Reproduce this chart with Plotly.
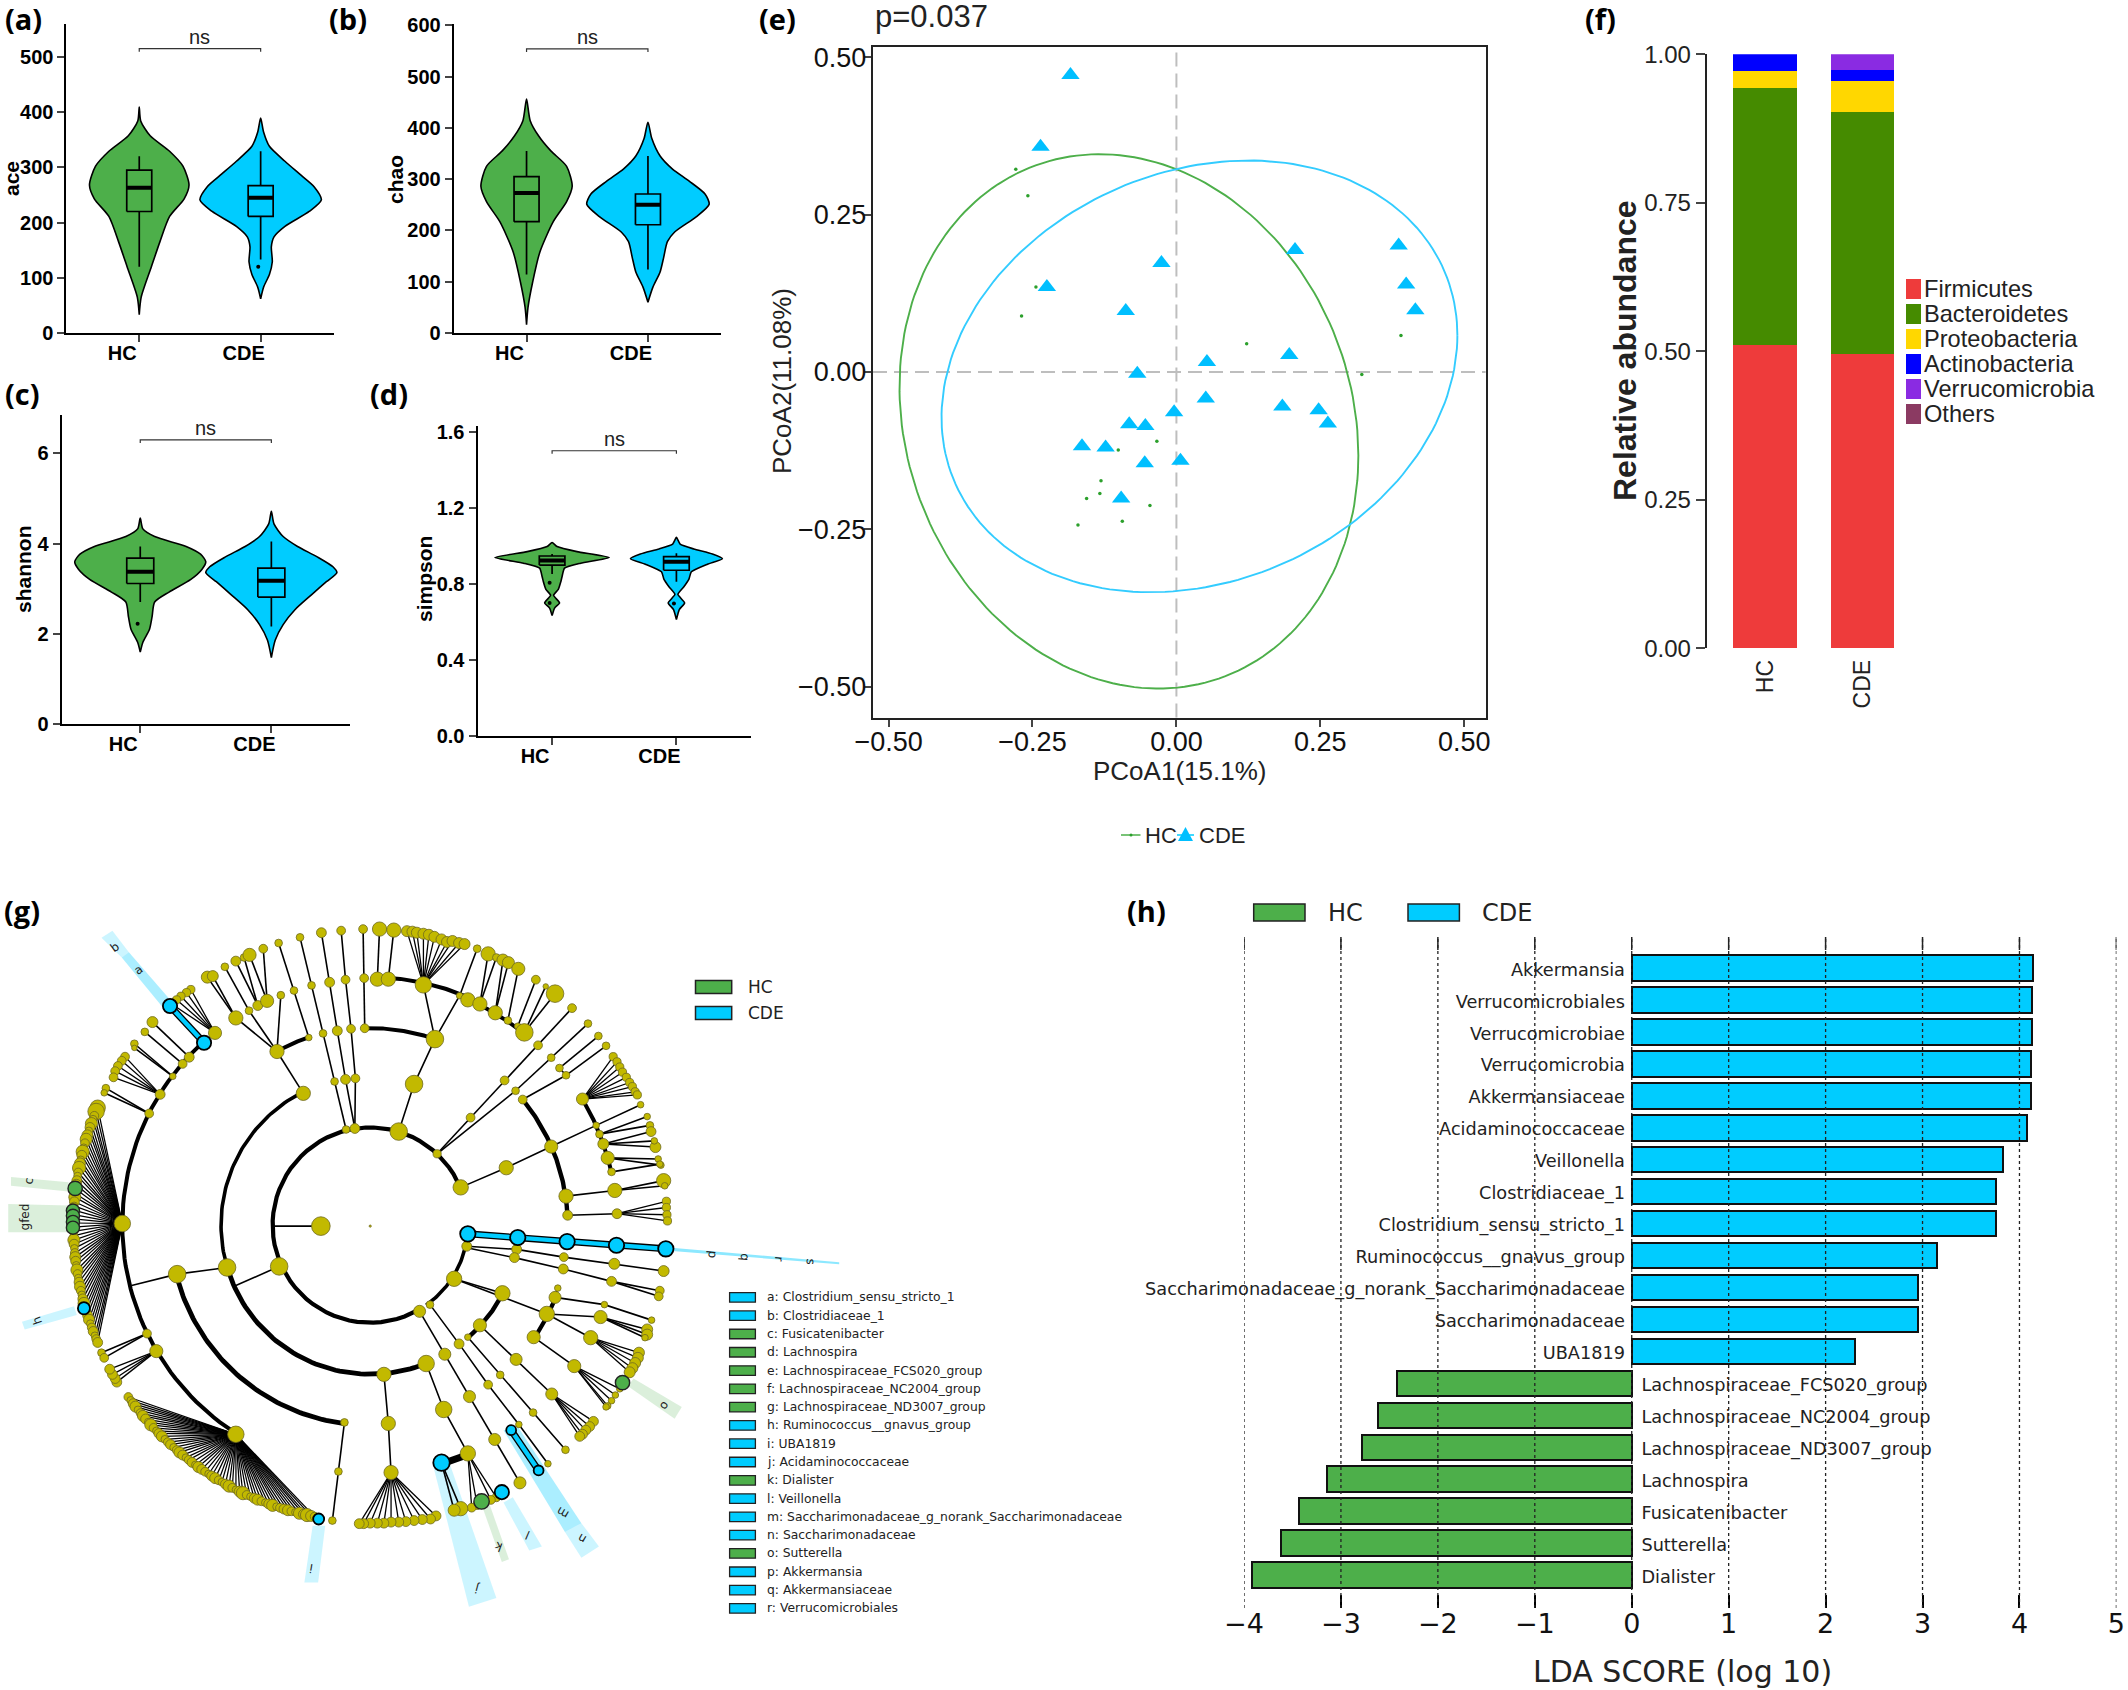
import numpy as np
import plotly.graph_objects as go

W, H = 2128, 1690
GREEN = "#4DAF4A"
BLUE = "#00CCFF"
SANS = "Liberation Sans"
DEJA = "DejaVu Sans"

# ---------- violin panels: levels, half widths (in category units), box stats ----------
ace_hc_y = [409, 384, 357, 329, 302, 268, 243, 211, 165, 120, 65, 33]
ace_hc_w = [0, .012, .09, .25, .36, .41, .37, .25, .17, .10, .016, 0]
ace_cde_y = [389, 364, 338, 311, 288, 265, 241, 220, 193, 174, 156, 129, 106, 83, 62]
ace_cde_w = [0, .024, .072, .2, .32, .44, .5, .4, .2, .11, .088, .096, .072, .024, 0]
ace_box = [[120, 220, 263, 295, 320], [133, 211, 245, 267, 329]]
ace_out = [[], [120]]

chao_hc_y = [456, 414, 384, 355, 325, 286, 256, 217, 158, 99, 50, 16]
chao_hc_w = [0, .03, .1, .2, .33, .376, .33, .22, .11, .05, .012, 0]
chao_cde_y = [411, 379, 345, 320, 296, 271, 251, 227, 197, 178, 148, 119, 89, 60]
chao_cde_w = [0, .032, .1, .2, .34, .47, .504, .4, .22, .16, .13, .1, .04, 0]
chao_box = [[114, 217, 273, 305, 355], [124, 211, 250, 271, 345]]
chao_out = [[], []]

sha_hc_y = [4.57, 4.33, 4.16, 3.94, 3.77, 3.60, 3.43, 3.21, 2.93, 2.71, 2.38, 2.10, 1.82, 1.6]
sha_hc_w = [0, .02, .11, .35, .46, .5, .47, .386, .22, .11, .09, .07, .02, 0]
sha_cde_y = [4.72, 4.44, 4.16, 3.94, 3.71, 3.49, 3.36, 3.16, 2.88, 2.54, 2.21, 1.87, 1.48]
sha_cde_w = [0, .02, .09, .2, .35, .47, .5, .42, .31, .18, .09, .03, 0]
sha_box = [[2.71, 3.12, 3.38, 3.68, 3.94], [2.17, 2.82, 3.18, 3.46, 4.05]]
sha_out = [[2.23], []]

sim_hc_y = [1.016, .995, .968, .937, .907, .881, .836, .809, .769, .738, .698, .671, .631]
sim_hc_w = [0, .04, .2, .46, .23, .1, .08, .07, .05, .012, .06, .02, 0]
sim_cde_y = [1.043, 1.008, .982, .955, .931, .902, .862, .822, .783, .743, .698, .663, .61]
sim_cde_w = [0, .03, .14, .29, .37, .25, .12, .1, .06, .012, .066, .023, 0]
sim_box = [[.85, .897, .921, .945, .955], [.81, .870, .915, .942, .96]]
sim_out = [[.804, .698], [.695]]

groups = ["HC", "CDE"]

# ---------- PCoA ----------
cde_x = [-.184, -.236, -.225, -.088, -.026, .206, .386, .399, .415, .053, .196, -.068, .051, -.004, .184, .247, .263, -.082, -.054, -.164, -.123, -.055, .007, -.096]
cde_y = [.472, .358, .135, .097, .173, .194, .201, .139, .098, .016, .027, -.003, -.042, -.064, -.055, -.061, -.082, -.083, -.086, -.118, -.120, -.145, -.141, -.201]
hc_x = [-.279, -.258, -.244, -.269, .122, .390, .322, -.004, -.034, -.101, -.131, -.156, -.133, -.046, -.094, -.171]
hc_y = [.322, .280, .135, .089, .045, .058, -.004, -.063, -.110, -.124, -.173, -.201, -.193, -.212, -.237, -.243]
# confidence ellipses: centre x, centre y, half width, half height, correlation
ellipse_hc = (-.0825, -.0785, .3985, .4245, -.128)
ellipse_cde = (.04, -.007, .448, .343, .19)

# ---------- stacked bars ----------
phyla = ["Firmicutes", "Bacteroidetes", "Proteobacteria", "Actinobacteria", "Verrucomicrobia", "Others"]
phyla_colors = ["#EE3B3B", "#458B00", "#FFD700", "#0000FF", "#8A2BE2", "#8B3A62"]
phyla_hc = [.511, .432, .028, .029, 0, 0]
phyla_cde = [.495, .407, .053, .019, .026, 0]

# ---------- LDA ----------
lda_names = ["Akkermansia", "Verrucomicrobiales", "Verrucomicrobiae", "Verrucomicrobia", "Akkermansiaceae",
             "Acidaminococcaceae", "Veillonella", "Clostridiaceae_1", "Clostridium_sensu_stricto_1",
             "Ruminococcus__gnavus_group", "Saccharimonadaceae_g_norank_Saccharimonadaceae", "Saccharimonadaceae",
             "UBA1819", "Lachnospiraceae_FCS020_group", "Lachnospiraceae_NC2004_group", "Lachnospiraceae_ND3007_group",
             "Lachnospira", "Fusicatenibacter", "Sutterella", "Dialister"]
lda_vals = [4.14, 4.13, 4.13, 4.12, 4.12, 4.08, 3.83, 3.76, 3.76, 3.15, 2.95, 2.95, 2.30,
            -2.42, -2.62, -2.78, -3.14, -3.43, -3.62, -3.92]

# ---------- cladogram (layout units of the tree; centre = 675, 668) ----------
clade_legend = ["a: Clostridium_sensu_stricto_1", "b: Clostridiaceae_1", "c: Fusicatenibacter", "d: Lachnospira",
                "e: Lachnospiraceae_FCS020_group", "f: Lachnospiraceae_NC2004_group", "g: Lachnospiraceae_ND3007_group",
                "h: Ruminococcus__gnavus_group", "i: UBA1819", "j: Acidaminococcaceae", "k: Dialister", "l: Veillonella",
                "m: Saccharimonadaceae_g_norank_Saccharimonadaceae", "n: Saccharimonadaceae", "o: Sutterella",
                "p: Akkermansia", "q: Akkermansiaceae", "r: Verrucomicrobiales"]
clade_legend_grp = ["CDE", "CDE", "HC", "HC", "HC", "HC", "HC", "CDE", "CDE", "CDE", "HC", "CDE", "CDE", "CDE", "HC", "CDE", "CDE", "CDE"]

# arcs: radius, start angle, end angle, width
arcs = [(178, 22, 300, 4.2), (178, -5, -55, 3.6), (272, 117, 197, 3.6), (272, 197, 292, 4.8), (365, 195, 263, 4.8),
        (452, 132, 238, 4.0), (452, 88, 67, 4.0), (448, 67, 52, 4.0), (359, 92, 71, 4.0), (360, 118, 108, 4.0),
        (360, 39, 2.5, 4.4), (450, 30.6, 12.3, 4.0), (272, -28, -49, 4.4), (363, -22, -35, 4.2), (457, -73.5, -67, 4.2)]

edges = [
    [(497, 670), (585, 670)],
    [(797, 530), (858, 460), (920, 388), (981, 320), (1043, 248)],
    [(840, 595), (923, 557), (1005, 516), (1087, 475)],
    [(851, 709), (942, 715), (1028, 730), (1120, 743), (1210, 757)],
    [(851, 712), (938, 731), (1027, 753), (1115, 777), (1203, 795)], [(1115, 777), (1201, 806)],
    [(828, 772), (997, 840)], [(997, 840), (1012, 808), (1017, 790)], [(1012, 808), (1102, 822), (1188, 852)],
    [(997, 840), (1095, 846)], [(1095, 846), (1180, 870)], [(1095, 846), (1176, 886)], [(1095, 846), (1180, 880)],
    [(973, 885), (1047, 941)], [(997, 840), (1077, 886)],
    [(828, 772), (916, 800)],
    [(875, 862), (941, 928), (1006, 995)],
    [(853, 885), (912, 958), (972, 1031), (1031, 1103)],
    [(784, 822), (837, 898), (890, 977), (946, 1054), (999, 1130)],
    [(765, 835), (811, 918), (856, 1000), (902, 1083), (948, 1167)],
    [(777, 936), (809, 1025), (853, 1110)],
    [(805, 1128), (840, 1217)], [(805, 1128), (828, 1220)],
    [(700, 957), (708, 1052), (713, 1147)],
    [(628, 1050), (617, 1145), (606, 1240)],
    [(509, 748), (430, 785)], [(414, 750), (323, 763), (240, 785)],
    [(553, 413), (505, 332)], [(430, 267), (378, 188)], [(430, 267), (388, 186)],
    [(454, 253), (410, 168)], [(470, 243), (430, 157)], [(470, 243), (445, 150)], [(487, 234), (455, 145)], [(487, 234), (480, 133)],
    [(563, 305), (536, 214), (508, 122)], [(589, 297), (568, 204), (547, 111)],
    [(631, 483), (610, 390), (589, 297)], [(647, 481), (630, 386), (615, 292), (601, 198), (586, 102)],
    [(647, 481), (648, 384), (640, 288), (630, 193), (622, 98)], [(665, 287), (664, 190), (662, 95)],
    [(727, 487), (755, 395), (793, 308), (838, 224)], [(793, 308), (772, 203)],
    [(688, 192), (692, 95)], [(708, 192), (718, 97)], [(838, 224), (870, 133)], [(875, 240), (890, 143)], [(875, 240), (905, 150)],
    [(903, 257), (917, 155)], [(903, 257), (927, 160)], [(926, 272), (945, 172)], [(944, 283), (977, 193)], [(956, 295), (995, 206)], [(956, 295), (1012, 220)],
    [(797, 530), (940, 408)], [(940, 408), (1005, 344), (1072, 278)], [(953, 425), (1032, 378)], [(1020, 364), (1091, 302)], [(1032, 378), (1105, 321)], [(1020, 364), (1032, 378)],
    [(1087, 475), (1168, 435)], [(1093, 492), (1180, 458)], [(1093, 492), (1185, 475)], [(1100, 511), (1187, 487)], [(1100, 511), (1195, 517)], [(1100, 511), (1193, 505)],
    [(1108, 538), (1200, 540)], [(1108, 538), (1205, 552)], [(1115, 565), (1203, 550)],
    [(1032, 612), (1121, 601), (1210, 582)], [(1121, 601), (1212, 592)], [(1035, 649), (1125, 646)],
    [(285, 912), (268, 878)], [(272, 452), (193, 403)], [(272, 452), (190, 412)], [(315, 380), (245, 317)], [(315, 380), (245, 325)], [(333, 356), (264, 294)], [(345, 343), (278, 275)],
    [(268, 878), (185, 915)], [(268, 878), (190, 925)], [(430, 267), (505, 332)], [(454, 253), (505, 332)], [(512, 223), (505, 332)],
]

# fans: parent node and the leaves it carries
fans = [
    ((1062, 424), [(1118, 342), (1125, 352), (1130, 362), (1135, 372), (1142, 382), (1148, 392), (1153, 400), (1158, 410), (1162, 416)], 15),
    ((1125, 646), [(1215, 622), (1215, 634), (1216, 648), (1217, 660)], 15),
    ((1077, 886), [(1165, 915), (1163, 925), (1158, 935), (1153, 945), (1148, 953)], 20),
    ((1047, 941), [(1130, 985), (1122, 997), (1115, 1008), (1108, 1018), (1105, 1020)], 12),
    ((1006, 995), [(1082, 1048), (1075, 1058), (1068, 1065), (1062, 1073), (1057, 1077)], 18),
    ((853, 1110), [(905, 1195), (895, 1200), (870, 1210), (860, 1215)], 16),
    ((713, 1147), [(795, 1231), (785, 1237), (770, 1238), (755, 1240), (740, 1242), (727, 1243), (713, 1243), (700, 1245), (688, 1245), (675, 1245), (663, 1246), (655, 1246)], 18),
    ((285, 912), [(213, 972), (210, 965), (205, 957), (200, 947)], 18),
    ((292, 415), [(228, 342), (222, 350), (215, 360), (210, 370), (207, 382)], 16),
    ((392, 296), [(348, 212), (340, 218), (330, 225), (322, 232), (313, 240)], 15),
    ((772, 203), [(742, 99), (752, 100), (760, 102), (772, 104), (782, 106), (792, 110), (805, 115), (815, 120), (825, 118), (837, 122), (847, 124)], 20),
]
# big fans: parent node, leaf angle, leaf diameter
left_fan_parent = (223, 665)
left_fan_ang = [156.7, 157.5, 158.4, 159.1, 160.0, 160.8, 161.5, 162.4, 163.2, 164.0, 164.9, 165.7, 166.4, 167.3, 168.0, 168.9, 169.8, 170.5, 171.4, 172.2, 173.0, 173.9, 174.6, 175.5, 176.3, 177.1, 178.0, 178.8, 179.6, 180.4, 181.2, 182.1, 182.9, 183.7, 184.5, 185.4, 186.2, 187.0, 187.8, 188.7, 189.5, 190.3, 191.1, 192.0, 192.8, 193.6, 194.4, 195.3, 196.1, 196.9, 197.7, 198.6, 199.4, 200.2, 201.0, 201.9, 202.6, 203.3]
left_fan_d = [28, 30, 16, 14, 22, 18, 14, 20, 22, 16, 14, 24, 18, 14, 20, 24, 16, 14, 18, 20, 14, 16, 22, 18, 14, 16, 18, 14, 20, 18, 16, 14, 22, 18, 14, 16, 20, 18, 14, 22, 16, 14, 18, 20, 16, 14, 18, 22, 14, 16, 18, 20, 14, 16, 18, 14, 16, 18]
low_fan_parent = (430, 1073)
low_fan_ang = [215.4, 216.2, 217.0, 217.7, 218.5, 219.3, 220.0, 220.8, 221.6, 222.3, 223.1, 223.9, 224.6, 225.4, 226.2, 227.0, 227.7, 228.5, 229.3, 230.0, 230.8, 231.6, 232.3, 233.1, 233.9, 234.6, 235.4, 236.2, 237.0, 237.7, 238.5, 239.3, 240.0, 240.8, 241.6, 242.3, 243.1, 243.9, 244.6, 245.4, 246.2, 247.0, 247.7, 248.5, 249.3, 250.0, 250.8, 251.6, 252.3, 253.1, 253.9, 254.6, 255.4, 256.2, 257.0, 257.7, 258.5, 259.2]
low_fan_d = [16, 14, 18, 20, 14, 16, 20, 18, 14, 22, 16, 14, 18, 20, 14, 16, 18, 14, 16, 20, 18, 14, 16, 18, 14, 20, 18, 16, 14, 18, 20, 16, 14, 18, 22, 16, 14, 20, 24, 16, 14, 18, 20, 16, 14, 18, 22, 14, 16, 18, 20, 16, 14, 22, 18, 24, 20, 16]

olive_nodes = [(675, 670, 4), (585, 670, 34), (631, 483, 14), (647, 481, 18), (727, 487, 32), (797, 530, 15), (840, 595, 28), (509, 748, 32), (414, 750, 32), (323, 763, 32),
    (553, 413, 26), (505, 332, 26), (563, 305, 12), (430, 267, 26), (454, 253, 14), (470, 243, 18), (487, 234, 24), (512, 223, 14), (536, 214, 14), (568, 204, 14), (601, 198, 18), (630, 193, 16), (664, 190, 16),
    (589, 297, 14), (615, 292, 18), (640, 288, 16), (665, 287, 16), (610, 390, 14), (630, 386, 18), (648, 384, 16), (793, 308, 32), (755, 395, 32),
    (378, 188, 22), (388, 186, 20), (410, 168, 14), (430, 157, 18), (445, 150, 14), (455, 145, 24), (480, 133, 16), (508, 122, 14), (547, 111, 14), (586, 102, 18), (622, 98, 16), (662, 95, 16),
    (692, 95, 26), (718, 97, 26), (688, 192, 26), (708, 192, 26), (772, 203, 30), (838, 224, 12), (853, 232, 26), (875, 240, 26), (903, 257, 26), (926, 272, 14), (944, 283, 12), (956, 295, 32), (1012, 220, 32),
    (870, 133, 14), (890, 143, 26), (905, 150, 14), (917, 155, 22), (927, 160, 22), (945, 172, 24), (977, 193, 16), (995, 206, 10),
    (858, 460, 16), (920, 388, 16), (981, 320, 16), (1043, 248, 16), (1005, 344, 14), (1072, 278, 14), (1020, 364, 14), (1091, 302, 14), (1032, 378, 14), (1105, 321, 14), (940, 408, 14), (953, 425, 16),
    (1062, 424, 22), (1087, 475, 12), (1093, 492, 14), (1100, 511, 20), (1108, 538, 24), (1115, 565, 14), (1168, 435, 12), (1180, 458, 12), (1185, 475, 14), (1187, 487, 18), (1195, 517, 20), (1193, 505, 12), (1200, 540, 12), (1205, 552, 12), (1203, 550, 12),
    (923, 557, 26), (1005, 516, 24), (1032, 612, 26), (1121, 601, 26), (1210, 582, 26), (1212, 592, 12), (1035, 649, 18), (1125, 646, 18),
    (851, 709, 18), (942, 715, 18), (1028, 730, 16), (1120, 743, 20), (1210, 757, 20), (938, 731, 18), (1027, 753, 18), (1115, 777, 18), (1203, 795, 16), (1201, 806, 16), (828, 772, 28),
    (997, 840, 28), (1012, 808, 22), (1017, 790, 12), (1102, 822, 12), (1188, 852, 12), (1095, 846, 24), (1180, 870, 20), (1180, 880, 20), (1176, 886, 12), (973, 885, 24), (1047, 941, 24), (1077, 886, 26),
    (916, 800, 28), (875, 862, 24), (853, 885, 12), (941, 928, 22), (1006, 995, 22), (912, 958, 14), (972, 1031, 14), (1031, 1103, 14), (784, 822, 14), (837, 898, 18), (890, 977, 16), (946, 1054, 12), (999, 1130, 12),
    (765, 835, 22), (811, 918, 22), (856, 1000, 22), (902, 1083, 22), (948, 1167, 22), (777, 936, 30), (809, 1025, 30), (853, 1110, 28), (840, 1217, 26), (828, 1220, 22),
    (700, 957, 26), (708, 1052, 26), (713, 1147, 26), (628, 1050, 14), (617, 1145, 14), (606, 1240, 14), (430, 1073, 30), (223, 665, 30), (285, 912, 24), (268, 878, 16), (185, 915, 14), (190, 925, 16),
    (292, 415, 18), (272, 452, 16), (315, 380, 12), (333, 356, 16), (345, 343, 18), (392, 296, 24), (193, 403, 14), (190, 412, 12), (245, 317, 14), (245, 325, 10), (264, 294, 14), (278, 275, 20)]

blue_bars = [[(853, 685), (944, 692), (1034, 700), (1124, 707), (1214, 714)], [(310, 244), (372, 315)], [(932, 1065), (982, 1143)]]
black_thick = [[(805, 1128), (853, 1110)]]
blue_nodes = [(853, 685, 28), (944, 692, 28), (1034, 700, 28), (1124, 707, 28), (1214, 714, 28), (310, 244, 26), (372, 315, 26), (932, 1065, 18), (982, 1143, 18), (805, 1128, 30), (915, 1185, 26), (581, 1237, 20), (153, 829, 22)]
green_nodes = [(137, 597, 26), (133, 640, 24), (133, 650, 24), (133, 662, 24), (133, 673, 24), (1135, 973, 26), (878, 1203, 28)]

# clade highlight wedges: colour key, alpha, outline
wedges = [
    ("b", .2, [(185, 112), (205, 98), (235, 140), (222, 150)]),
    ("b", .33, [(222, 150), (235, 140), (313, 235), (297, 247)]),
    ("g", .2, [(20, 575), (20, 592), (125, 603), (125, 585)]),
    ("g", .2, [(15, 627), (15, 682), (125, 682), (125, 630)]),
    ("b", .2, [(40, 855), (45, 870), (140, 842), (135, 825)]),
    ("b", .2, [(555, 1360), (580, 1360), (593, 1250), (570, 1250)]),
    ("b", .2, [(790, 1135), (820, 1130), (905, 1390), (855, 1407)]),
    ("g", .2, [(880, 1215), (893, 1210), (928, 1315), (915, 1320)]),
    ("b", .2, [(918, 1205), (935, 1195), (988, 1290), (965, 1298)]),
    ("b", .33, [(918, 1065), (945, 1060), (1060, 1245), (1030, 1262)]),
    ("b", .2, [(1030, 1262), (1060, 1245), (1092, 1290), (1060, 1312)]),
    ("g", .2, [(1145, 980), (1155, 965), (1243, 1020), (1230, 1043)]),
    ("b", .45, [(1214, 711), (1530, 740), (1530, 744), (1214, 717)]),
]
clade_labels = [("a", 252, 175, 125), ("b", 210, 130, 125), ("c", 52, 582, 172), ("gfed", 45, 652, 180), ("h", 67, 853, 200),
                ("i", 567, 1332, 260), ("j", 870, 1372, 255), ("k", 910, 1290, 250), ("l", 963, 1268, 247), ("m", 1025, 1225, 240),
                ("n", 1060, 1275, 240), ("o", 1212, 1018, 325), ("p", 1300, 725, 355), ("q", 1358, 730, 355), ("r", 1420, 734, 355), ("s", 1478, 738, 355)]
CX, CY, RATIO, LEAF_R = 675, 668, 1.062, 541

# ---------- helpers ----------
def dx(a, b):
    return [a / W, b / W]

def dy(top, bottom):
    return [1 - bottom / H, 1 - top / H]

fig = go.Figure()
annos, shapes = [], []

def txt(x, y, s, size=20, font=SANS, bold=False, color="black", anchor="center", angle=0):
    annos.append(dict(x=x / W, y=1 - y / H, xref="paper", yref="paper", text=s, showarrow=False, xanchor=anchor, yanchor="middle",
                      textangle=angle, font=dict(family=font, size=size, color=color, weight="bold" if bold else "normal")))

def violin_panel(idx, xd, yd, ymax, ticks, fmt, name, name_x, name_y, hc, cde, box, out, br, tip, sm):
    ax = "" if idx == 1 else str(idx)
    xa, ya = "x" + ax, "y" + ax
    for c, (lev, wid), col in zip((1, 2), (hc, cde), (GREEN, BLUE)):
        lev, wid = np.array(lev, float), np.array(wid, float)
        xs = np.r_[c + wid, (c - wid)[::-1]]
        ys = np.r_[lev, lev[::-1]]
        fig.add_trace(go.Scatter(x=xs, y=ys, mode="lines", fill="toself", fillcolor=col, xaxis=xa, yaxis=ya,
                                 line=dict(color="black", width=1.6, shape="spline", smoothing=sm), hoverinfo="skip"))
        low, q1, med, q3, up = box[c - 1]
        hw = .103
        fig.add_trace(go.Scatter(x=[c, c, None, c, c, None, c - hw, c + hw, c + hw, c - hw, c - hw],
                                 y=[low, q1, None, q3, up, None, q1, q1, q3, q3, q1], mode="lines",
                                 line=dict(color="black", width=1.7), xaxis=xa, yaxis=ya))
        fig.add_trace(go.Scatter(x=[c - hw, c + hw], y=[med, med], mode="lines", line=dict(color="black", width=4), xaxis=xa, yaxis=ya))
        if out[c - 1]:
            fig.add_trace(go.Scatter(x=[c - .02] * len(out[c - 1]), y=out[c - 1], mode="markers", marker=dict(color="black", size=4), xaxis=xa, yaxis=ya))
    fig.add_trace(go.Scatter(x=[1, 1, 2, 2], y=[br - tip, br, br, br - tip], mode="lines", line=dict(color="#333333", width=1.2), xaxis=xa, yaxis=ya))
    annos.append(dict(x=1.5, y=br, xref=xa, yref=ya, text="ns", showarrow=False, yanchor="bottom", yshift=-1, font=dict(family=SANS, size=20, color="#222222")))
    fig.update_layout({
        "xaxis" + ax: dict(domain=dx(*xd), range=[.4, 2.6], tickvals=[1, 2], ticktext=groups, ticklabelshift=-17, ticklabelstandoff=-6, showline=True, linecolor="black", linewidth=2, ticks="outside",
                           ticklen=7, tickwidth=2, showgrid=False, zeroline=False, anchor=ya, tickfont=dict(family=SANS, size=20, weight="bold", color="black")),
        "yaxis" + ax: dict(domain=dy(*yd), range=[0, ymax], tickvals=ticks, tickformat=fmt, showline=True, linecolor="black", linewidth=2, ticks="outside",
                           ticklen=7, tickwidth=2, showgrid=False, zeroline=False, anchor=xa, tickfont=dict(family=SANS, size=20, weight="bold", color="black")),
    })
    txt(name_x, name_y, name, size=21, bold=True, angle=-90)

violin_panel(1, (66.4, 333.5), (23.7, 333), 560, [0, 100, 200, 300, 400, 500], "d", "ace", 11, 179, (ace_hc_y, ace_hc_w), (ace_cde_y, ace_cde_w), ace_box, ace_out, 515, 6, .7)
violin_panel(2, (453.7, 720.8), (23.7, 333), 603, [0, 100, 200, 300, 400, 500, 600], "d", "chao", 395, 179, (chao_hc_y, chao_hc_w), (chao_cde_y, chao_cde_w), chao_box, chao_out, 554, 6, .7)
violin_panel(3, (61.6, 350), (414.6, 724.4), 6.86, [0, 2, 4, 6], "d", "shannon", 24, 569, (sha_hc_y, sha_hc_w), (sha_cde_y, sha_cde_w), sha_box, sha_out, 6.30, .07, .7)
violin_panel(4, (477.5, 751), (425.7, 735.5), 1.631, [0, .4, .8, 1.2, 1.6], ".1f", "simpson", 424, 579, (sim_hc_y, sim_hc_w), (sim_cde_y, sim_cde_w), sim_box, sim_out, 1.499, .016, .5)

# ---------- (e) PCoA ----------
shapes.append(dict(type="line", xref="x5", yref="paper", x0=0, x1=0, y0=1 - 717.5 / H, y1=1 - 46.6 / H, line=dict(color="#BEBEBE", width=2, dash="14px,7px"), layer="below"))
shapes.append(dict(type="line", yref="y5", xref="paper", y0=0, y1=0, x0=873 / W, x1=1485.6 / W, line=dict(color="#BEBEBE", width=2, dash="14px,7px"), layer="below"))
for (cx, cy, sx, sy, rho), col in ((ellipse_hc, GREEN), (ellipse_cde, "#33CCFF")):
    t = np.linspace(0, 2 * np.pi, 200)
    fig.add_trace(go.Scatter(x=cx + sx * np.cos(t), y=cy + sy * (rho * np.cos(t) + np.sqrt(1 - rho ** 2) * np.sin(t)), mode="lines",
                             line=dict(color=col, width=1.9), xaxis="x5", yaxis="y5"))
fig.add_trace(go.Scatter(x=hc_x, y=hc_y, mode="markers", marker=dict(color="#2CA02C", size=3.5), xaxis="x5", yaxis="y5", name="HC"))
fig.add_trace(go.Scatter(x=cde_x, y=cde_y, mode="markers", marker=dict(color="#00BFFF", size=16, symbol="triangle-up"), xaxis="x5", yaxis="y5", name="CDE"))
e_font = dict(family=SANS, size=27, color="#111111")
fig.update_layout(
    xaxis5=dict(domain=dx(873, 1485.6), range=[-.527, .537], tickvals=[-.5, -.25, 0, .25, .5], tickformat=".2f", showline=True, mirror=True, linecolor="#222222", linewidth=2.4,
                ticks="outside", ticklen=7, tickwidth=2, showgrid=False, zeroline=False, anchor="y5", tickfont=e_font, ticklabelstandoff=-8),
    yaxis5=dict(domain=dy(46.6, 717.5), range=[-.549, .517], tickvals=[-.5, -.25, 0, .25, .5], tickformat=".2f", showline=True, mirror=True, linecolor="#222222", linewidth=2.4,
                ticks="outside", ticklen=7, tickwidth=2, showgrid=False, zeroline=False, anchor="x5", tickfont=e_font, ticklabelstandoff=-8))
txt(1179, 771, "PCoA1(15.1%)", size=26, color="#222222")
txt(782, 381, "PCoA2(11.08%)", size=26, color="#222222", angle=-90)
txt(873, 16, "p=0.037", size=31, color="#222222", anchor="left")
# legend keys of (e)
shapes.append(dict(type="line", xref="paper", yref="paper", x0=1121 / W, x1=1140.5 / W, y0=1 - 835 / H, y1=1 - 835 / H, line=dict(color=GREEN, width=1.5)))
shapes.append(dict(type="circle", xref="paper", yref="paper", x0=1129.5 / W, x1=1132.5 / W, y0=1 - 836.5 / H, y1=1 - 833.5 / H, fillcolor="#2CA02C", line=dict(width=0)))
shapes.append(dict(type="line", xref="paper", yref="paper", x0=1177 / W, x1=1194 / W, y0=1 - 835 / H, y1=1 - 835 / H, line=dict(color=BLUE, width=1.5)))
shapes.append(dict(type="path", xref="paper", yref="paper", fillcolor="#00BFFF", line=dict(width=0),
                   path=f"M {1178/W} {1-841/H} L {1193/W} {1-841/H} L {1185.5/W} {1-827/H} Z"))
txt(1143, 835, "HC", size=22, color="#222222", anchor="left")
txt(1197, 835, "CDE", size=22, color="#222222", anchor="left")

# ---------- (f) stacked bars ----------
for nm, col, a, b in zip(phyla, phyla_colors, phyla_hc, phyla_cde):
    fig.add_trace(go.Bar(x=groups, y=[a, b], name=nm, marker=dict(color=col, line=dict(width=0)), width=.65, xaxis="x6", yaxis="y6"))
fig.update_layout(
    barmode="stack",
    xaxis6=dict(domain=dx(1706.7, 1923), range=[-.6, 1.62], type="category", categoryorder="array", categoryarray=groups, tickangle=-90, showline=False, ticks="", showgrid=False, zeroline=False,
                anchor="y6", tickfont=dict(family=SANS, size=23, color="#222222"), ticklabelstandoff=6),
    yaxis6=dict(domain=dy(54.2, 648.3), range=[0, 1], tickvals=[0, .25, .5, .75, 1], tickformat=".2f", showline=True, linecolor="#222222", linewidth=2, ticks="outside", ticklen=9, tickwidth=2,
                showgrid=False, zeroline=False, anchor="x6", tickfont=dict(family=SANS, size=24, color="#222222")))
txt(1625, 351, "Relative abundance", size=32, bold=True, color="#222222", angle=-90)
for i, (nm, col) in enumerate(zip(phyla, phyla_colors)):
    yc = 289 + i * 25
    shapes.append(dict(type="rect", xref="paper", yref="paper", x0=1906 / W, x1=1921 / W, y0=1 - (yc + 10) / H, y1=1 - (yc - 10) / H, fillcolor=col, line=dict(width=0)))
    txt(1922, yc, nm, size=23.6, color="#222222", anchor="left")

# ---------- (g) cladogram ----------
GX, GY = "x7", "y7"
fig.update_layout(xaxis7=dict(domain=dx(0, 860), range=[0, 1568], visible=False, anchor="y7"),
                  yaxis7=dict(domain=dy(880, 1690), range=[1568, 0], visible=False, anchor="x7"))
for key, alpha, pts in wedges:
    rgb = "0,204,255" if key == "b" else "77,175,74"
    xs, ys = zip(*pts)
    fig.add_trace(go.Scatter(x=list(xs) + [xs[0]], y=list(ys) + [ys[0]], mode="lines", fill="toself", fillcolor=f"rgba({rgb},{alpha})", line=dict(width=0), xaxis=GX, yaxis=GY))

def polar(r, a):
    t = np.radians(a)
    return CX + r * np.cos(t), CY - RATIO * r * np.sin(t)

lx, ly = [], []
lfx, lfy, lfd = list(), list(), list()
for parent, angs, ds in ((left_fan_parent, left_fan_ang, left_fan_d), (low_fan_parent, low_fan_ang, low_fan_d)):
    for a, d in zip(angs, ds):
        px_, py_ = polar(LEAF_R, a)
        lx += [parent[0], px_, None]
        ly += [parent[1], py_, None]
        lfx.append(px_); lfy.append(py_); lfd.append(d)
fan_x, fan_y = [], []
for parent, leaves, d in fans:
    for (x_, y_) in leaves:
        fan_x += [parent[0], x_, None]
        fan_y += [parent[1], y_, None]
        lfx.append(x_); lfy.append(y_); lfd.append(d)
fig.add_trace(go.Scatter(x=lx, y=ly, mode="lines", line=dict(color="black", width=1.25), xaxis=GX, yaxis=GY))
fig.add_trace(go.Scatter(x=fan_x, y=fan_y, mode="lines", line=dict(color="black", width=1.3), xaxis=GX, yaxis=GY))
ex, ey = [], []
for chain in edges:
    for x_, y_ in chain:
        ex.append(x_); ey.append(y_)
    ex.append(None); ey.append(None)
fig.add_trace(go.Scatter(x=ex, y=ey, mode="lines", line=dict(color="black", width=1.6), xaxis=GX, yaxis=GY))
for r, a0, a1, wd in arcs:
    ts = np.linspace(a0, a1, 60)
    ax_, ay_ = polar(r, ts)
    fig.add_trace(go.Scatter(x=ax_, y=ay_, mode="lines", line=dict(color="black", width=wd), xaxis=GX, yaxis=GY))
for chain in black_thick:
    xs, ys = zip(*chain)
    fig.add_trace(go.Scatter(x=xs, y=ys, mode="lines", line=dict(color="black", width=4.5), xaxis=GX, yaxis=GY))
for chain in blue_bars:
    xs, ys = zip(*chain)
    fig.add_trace(go.Scatter(x=xs, y=ys, mode="lines", line=dict(color="black", width=7), xaxis=GX, yaxis=GY))
    fig.add_trace(go.Scatter(x=xs, y=ys, mode="lines", line=dict(color=BLUE, width=4.4), xaxis=GX, yaxis=GY))

OLIVE = "#C2B900"
def node_trace(xs, ys, ds, col, lw, lc):
    fig.add_trace(go.Scatter(x=xs, y=ys, mode="markers", xaxis=GX, yaxis=GY,
                             marker=dict(color=col, opacity=1, size=[d / 1.823 for d in ds], line=dict(color=lc, width=lw))))
node_trace(lfx, lfy, lfd, OLIVE, .8, "#6E6A20")
node_trace([n[0] for n in olive_nodes], [n[1] for n in olive_nodes], [n[2] for n in olive_nodes], OLIVE, .8, "#6E6A20")
node_trace([n[0] for n in blue_nodes], [n[1] for n in blue_nodes], [n[2] for n in blue_nodes], BLUE, 1.8, "black")
node_trace([n[0] for n in green_nodes], [n[1] for n in green_nodes], [n[2] for n in green_nodes], GREEN, 1.4, "#222222")
for s, x_, y_, t in clade_labels:
    annos.append(dict(x=x_, y=y_, xref=GX, yref=GY, text=s, showarrow=False, textangle=90 - t, font=dict(family=DEJA, size=12, color="#222222")))

def swatch(x0, x1, yc, h, col, lw=1.5):
    shapes.append(dict(type="rect", xref="paper", yref="paper", x0=x0 / W, x1=x1 / W, y0=1 - (yc + h / 2) / H, y1=1 - (yc - h / 2) / H, fillcolor=col, line=dict(color="#222222", width=lw)))

swatch(695.5, 731.7, 987, 13, GREEN)
swatch(695.5, 731.7, 1013, 13, BLUE)
txt(746, 987, "HC", size=17, font=DEJA, color="#222222", anchor="left")
txt(746, 1013, "CDE", size=17, font=DEJA, color="#222222", anchor="left")
for i, (s, g) in enumerate(zip(clade_legend, clade_legend_grp)):
    yc = 1297.4 + i * 18.29
    swatch(729.6, 755.4, yc, 9.5, GREEN if g == "HC" else BLUE, 1.3)
    txt(765, yc, s, size=12.35, font=DEJA, color="#222222", anchor="left")

# ---------- (h) LDA ----------
idx = list(range(len(lda_names)))
fig.add_trace(go.Bar(x=lda_vals, y=idx, orientation="h", width=.8, marker=dict(color=[BLUE if v > 0 else GREEN for v in lda_vals], line=dict(color="#111111", width=2)), xaxis="x8", yaxis="y8"))
pos = [i for i in idx if lda_vals[i] > 0]
neg = [i for i in idx if lda_vals[i] < 0]
lab_font = dict(family=DEJA, size=17.7, color="#222222")
fig.add_trace(go.Scatter(x=[-.07] * len(pos), y=[i + .1 for i in pos], text=[lda_names[i] for i in pos], mode="text", textposition="middle left", textfont=lab_font, xaxis="x8", yaxis="y8", cliponaxis=False))
fig.add_trace(go.Scatter(x=[.1] * len(neg), y=[i + .1 for i in neg], text=[lda_names[i] for i in neg], mode="text", textposition="middle right", textfont=lab_font, xaxis="x8", yaxis="y8", cliponaxis=False))
fig.update_layout(
    xaxis8=dict(domain=dx(1244, 2116.4), range=[-4, 5], tickvals=list(range(-4, 6)), showline=False, ticks="inside", ticklen=13, tickwidth=1.5, tickcolor="black", showgrid=False,
                zeroline=False, anchor="y8", tickfont=dict(family=DEJA, size=27, color="#111111"), ticklabelstandoff=-3),
    yaxis8=dict(domain=dy(937, 1608), range=[20.03, -.97], visible=False, anchor="x8"))
for v in range(-4, 6):
    shapes.append(dict(type="line", xref="x8", yref="paper", x0=v, x1=v, y0=1 - 1608 / H, y1=1 - 937 / H, layer="above", line=dict(color="#222222", width=1.3, dash="dot")))
    shapes.append(dict(type="line", xref="x8", yref="paper", x0=v, x1=v, y0=1 - 950 / H, y1=1 - 937 / H, line=dict(color="#222222", width=1.5)))
txt(1682, 1671, "LDA SCORE (log 10)", size=30, font=DEJA, color="#222222")
swatch(1253.7, 1305, 912.5, 17, GREEN)
swatch(1408, 1459.4, 912.5, 17, BLUE)
txt(1326, 912.5, "HC", size=24, font=DEJA, color="#222222", anchor="left")
txt(1480, 912.5, "CDE", size=24, font=DEJA, color="#222222", anchor="left")

# ---------- panel letters ----------
for s, x_, y_ in (("(a)", 3, 19), ("(b)", 327, 19), ("(c)", 3, 393), ("(d)", 368, 393), ("(e)", 757, 19), ("(f)", 1583, 19), ("(g)", 2, 910), ("(h)", 1125, 910)):
    txt(x_, y_, s, size=29, font="Open Sans", bold=True, anchor="left")

fig.update_layout(width=W, height=H, margin=dict(l=0, r=0, t=0, b=0, pad=0, autoexpand=False), showlegend=False, autosize=False,
                  paper_bgcolor="white", plot_bgcolor="rgba(0,0,0,0)", boxmode="overlay", annotations=annos, shapes=shapes)
fig.write_html("out.html", post_script="document.body.style.margin='0';", config={"displayModeBar": False})
